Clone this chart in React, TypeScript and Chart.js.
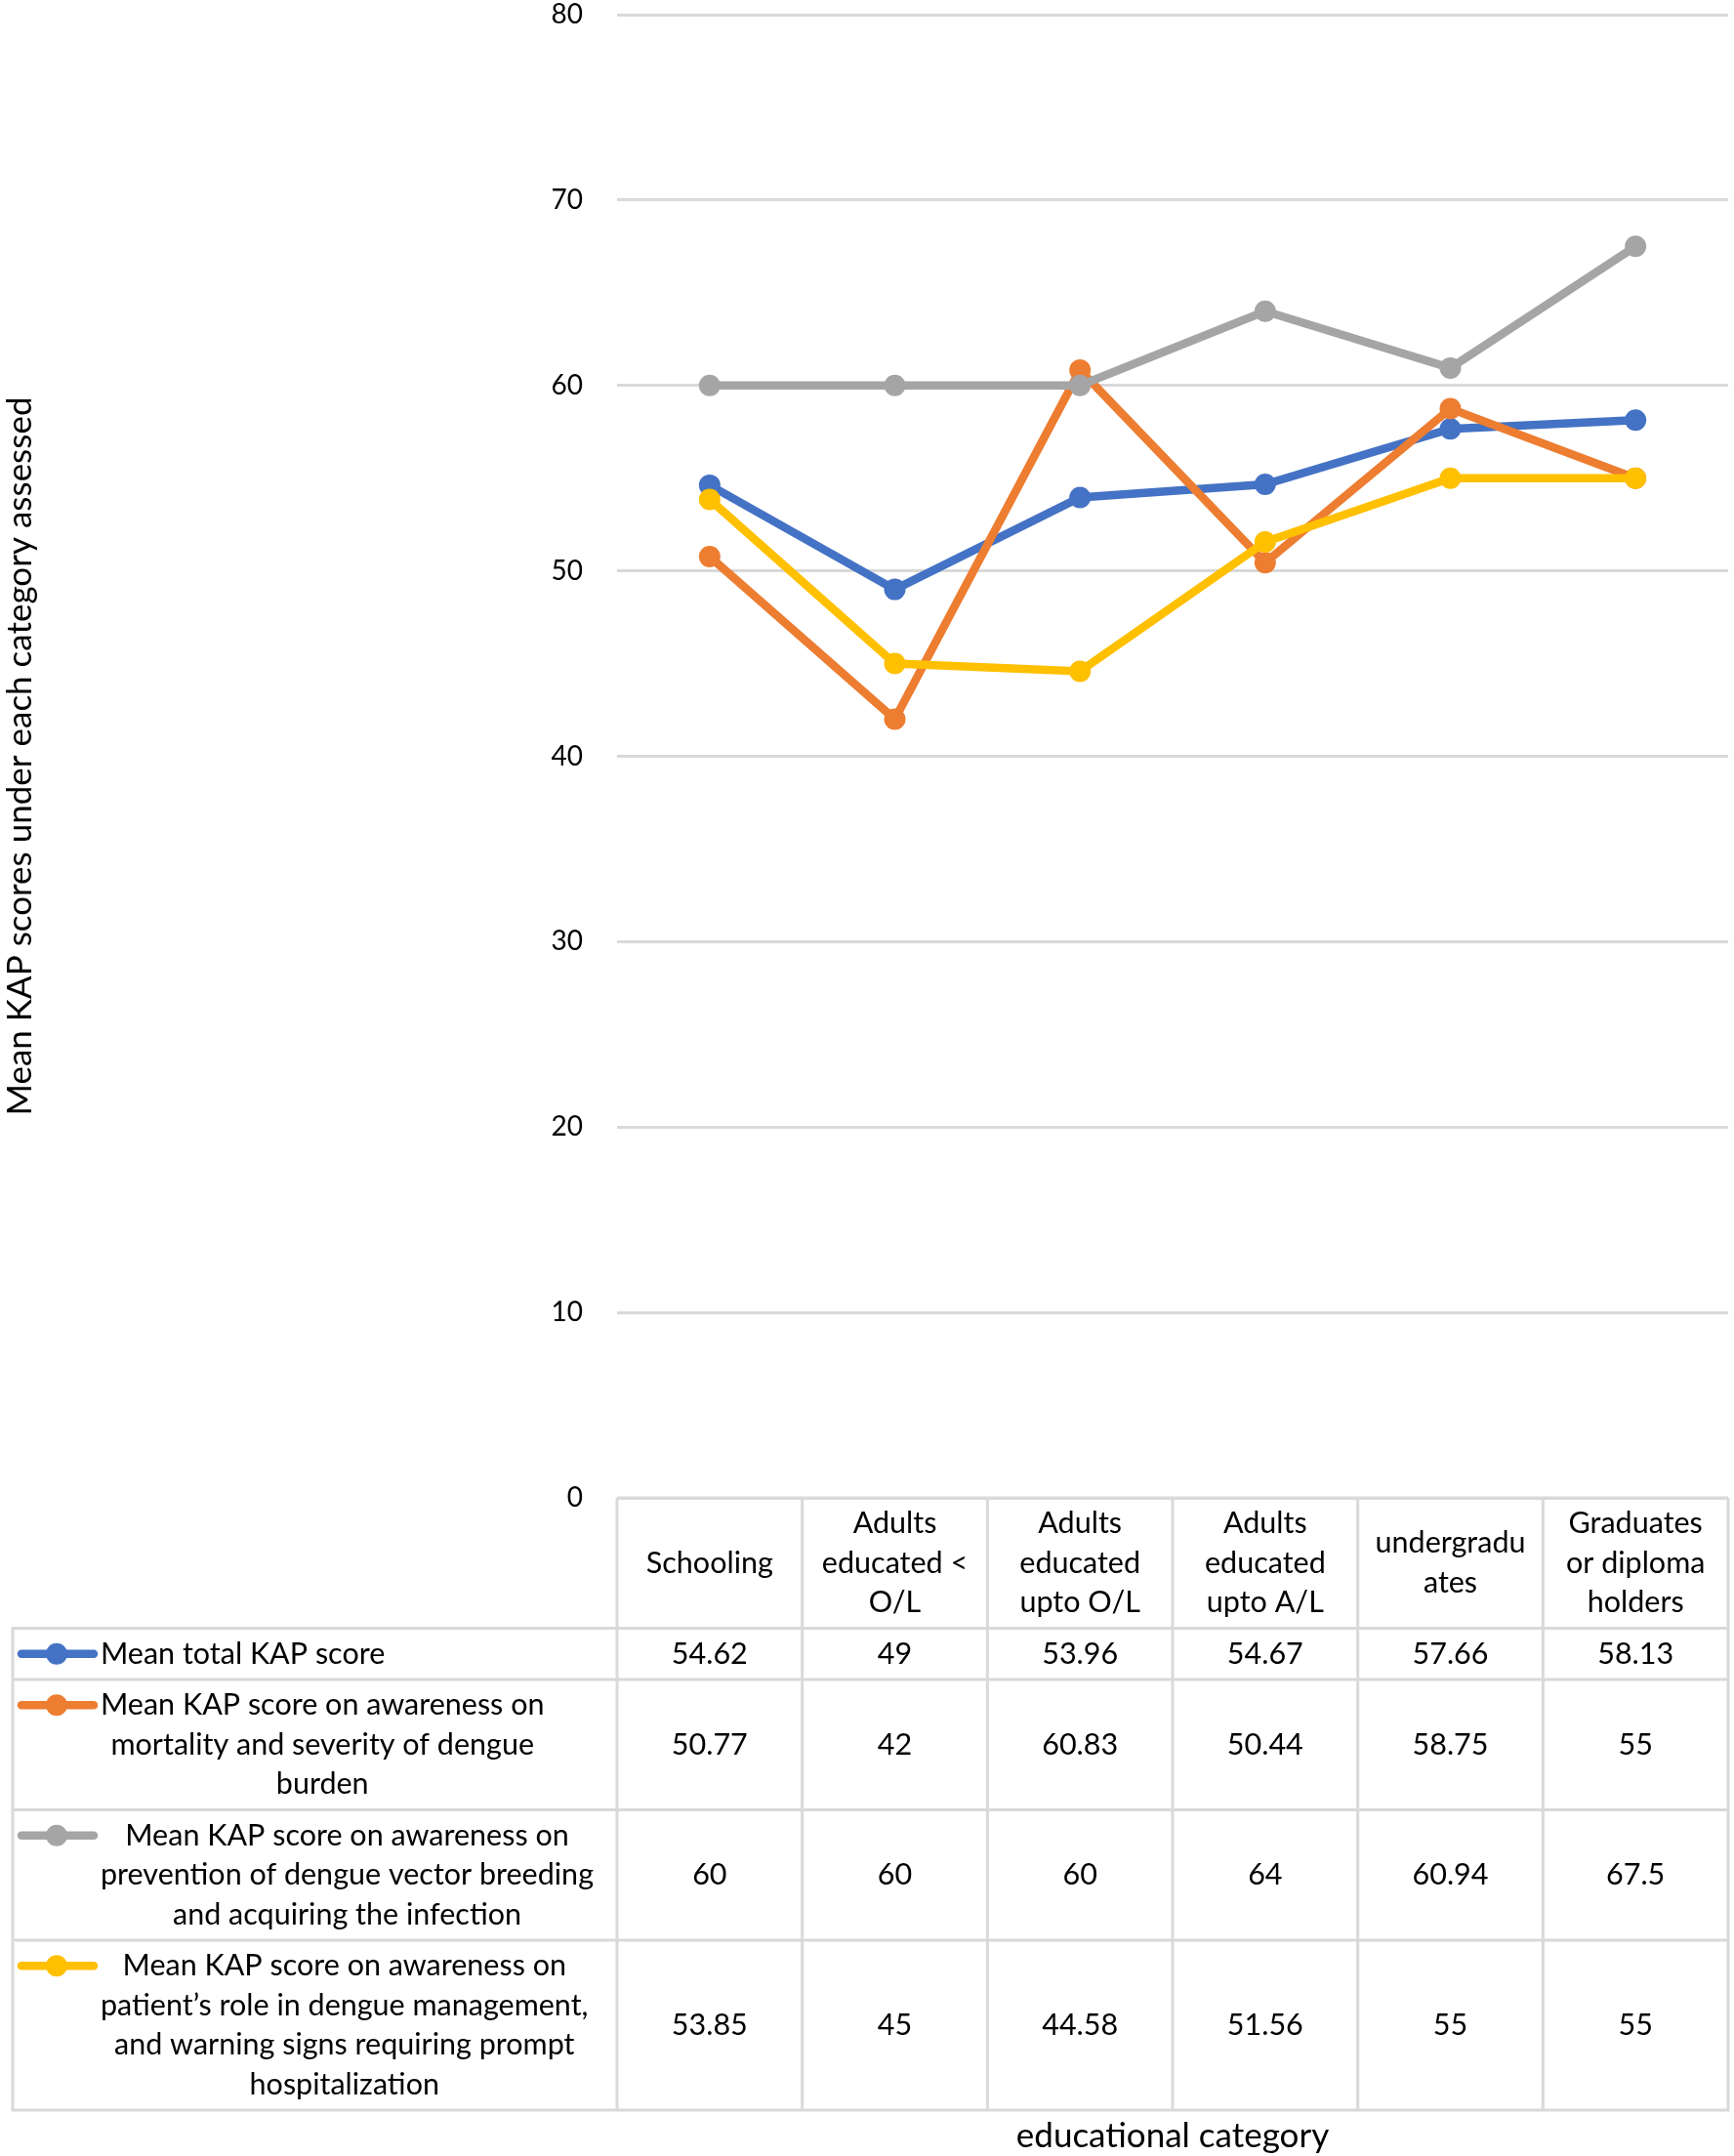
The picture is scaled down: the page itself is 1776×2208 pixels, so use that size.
import React, { useEffect, useRef } from "react";
import { Chart, registerables } from "chart.js";

Chart.register(...registerables);

// ---------- data ----------
const categories: string[][] = [
  ["Schooling"],
  ["Adults", "educated <", "O/L"],
  ["Adults", "educated", "upto O/L"],
  ["Adults", "educated", "upto A/L"],
  ["undergradu", "ates"],
  ["Graduates", "or diploma", "holders"],
];

const seriesNames: string[][] = [
  ["Mean total KAP score"],
  ["Mean KAP score on awareness on", "mortality and severity of dengue", "burden"],
  ["Mean KAP score on awareness on", "prevention of dengue vector breeding", "and acquiring the infection"],
  ["Mean KAP score on awareness on", "patient\u2019s role in dengue management,", "and warning signs requiring prompt", "hospitalization"],
];

const totalScore = [54.62, 49, 53.96, 54.67, 57.66, 58.13];
const mortalityScore = [50.77, 42, 60.83, 50.44, 58.75, 55];
const preventionScore = [60, 60, 60, 64, 60.94, 67.5];
const patientRoleScore = [53.85, 45, 44.58, 51.56, 55, 55];

const seriesColors = ["#4472C4", "#ED7D31", "#A5A5A5", "#FFC000"];
const yTicks = [0, 10, 20, 30, 40, 50, 60, 70, 80];

const yTitle = "Mean KAP scores under each category assessed";
const xTitle = "educational category";

// ---------- layout / style ----------
const W = 1776;
const H = 2208;
const FONT = "Lato, 'Noto Sans', sans-serif";
const TABLE_FONT_SIZE = 30.5;
const TICK_FONT_SIZE = 28;
const TITLE_FONT_SIZE = 35;
const LINE_H = 40.5;
const ROW_PAD = 12;
const TABLE_LEFT = 13;
const BORDER = "#D9D9D9";

const allSeries = [totalScore, mortalityScore, preventionScore, patientRoleScore];

const tablePlugin = {
  id: "dataTable",
  afterDraw(chart: any) {
    const ctx: CanvasRenderingContext2D = chart.ctx;
    const xs = chart.scales.x;
    const area = chart.chartArea;
    const n = categories.length;
    const step = (area.right - area.left) / n;
    ctx.save();
    ctx.font = `${TABLE_FONT_SIZE}px ${FONT}`;
    ctx.fillStyle = "#000";
    ctx.textBaseline = "middle";
    ctx.textAlign = "center";

    // row bounds
    const headerTop = area.bottom;
    const headerLines = Math.max(...categories.map((c) => c.length));
    const headerBottom = headerTop + headerLines * LINE_H + ROW_PAD;
    const rowBounds: number[] = [headerBottom];
    seriesNames.forEach((s) => {
      rowBounds.push(rowBounds[rowBounds.length - 1] + s.length * LINE_H + ROW_PAD);
    });

    // header labels
    const headerMid = (headerTop + headerBottom) / 2;
    categories.forEach((lines, i) => {
      const cx = xs.getPixelForValue(i);
      const y0 = headerMid - ((lines.length - 1) * LINE_H) / 2;
      lines.forEach((t, k) => ctx.fillText(t, cx, y0 + k * LINE_H));
    });

    // rows
    seriesNames.forEach((names, r) => {
      const top = rowBounds[r];
      const bot = rowBounds[r + 1];
      const mid = (top + bot) / 2;
      const y0 = mid - ((names.length - 1) * LINE_H) / 2;
      // legend key
      ctx.strokeStyle = seriesColors[r];
      ctx.lineWidth = 8.5;
      ctx.lineCap = "round";
      ctx.beginPath();
      ctx.moveTo(22, y0);
      ctx.lineTo(96, y0);
      ctx.stroke();
      ctx.fillStyle = seriesColors[r];
      ctx.beginPath();
      ctx.arc(58, y0, 11, 0, Math.PI * 2);
      ctx.fill();
      // name
      ctx.fillStyle = "#000";
      const maxW = Math.max(...names.map((t) => ctx.measureText(t).width));
      const blockCx = 103 + maxW / 2;
      names.forEach((t, k) => ctx.fillText(t, blockCx, y0 + k * LINE_H));
      // values
      allSeries[r].forEach((v, i) => {
        ctx.fillText(String(v), xs.getPixelForValue(i), mid);
      });
    });

    // borders
    ctx.strokeStyle = BORDER;
    ctx.lineWidth = 3;
    ctx.lineCap = "butt";
    const tableBottom = rowBounds[rowBounds.length - 1];
    ctx.beginPath();
    for (let i = 0; i <= n; i++) {
      const x = area.left + i * step;
      ctx.moveTo(x, headerTop);
      ctx.lineTo(x, tableBottom);
    }
    ctx.moveTo(TABLE_LEFT, headerBottom);
    ctx.lineTo(TABLE_LEFT, tableBottom);
    rowBounds.forEach((y) => {
      ctx.moveTo(TABLE_LEFT - 1.5, y);
      ctx.lineTo(area.right + 1.5, y);
    });
    ctx.moveTo(area.left, headerTop);
    ctx.lineTo(area.right, headerTop);
    ctx.stroke();

    // x title
    ctx.font = `${TITLE_FONT_SIZE}px ${FONT}`;
    ctx.fillStyle = "#000";
    ctx.textAlign = "center";
    ctx.fillText(xTitle, (area.left + area.right) / 2, tableBottom + 27);
    ctx.restore();
  },
};

export default function App() {
  const ref = useRef<HTMLCanvasElement | null>(null);
  useEffect(() => {
    document.documentElement.style.overflow = "hidden";
    document.body.style.overflow = "hidden";
    document.body.style.margin = "0";
    if (!ref.current) return;
    const chart = new Chart(ref.current, {
      type: "line",
      data: {
        labels: categories.map((c) => c.join(" ")),
        datasets: allSeries.map((d, i) => ({
          label: seriesNames[i].join(" "),
          data: d,
          borderColor: seriesColors[i],
          backgroundColor: seriesColors[i],
          pointBackgroundColor: seriesColors[i],
          pointBorderColor: seriesColors[i],
          pointBorderWidth: 0,
          pointRadius: 11,
          borderWidth: 8.5,
          tension: 0,
          fill: false,
          order: allSeries.length - i,
        })),
      },
      options: {
        animation: false,
        responsive: false,
        devicePixelRatio: 1,
        layout: { autoPadding: false, padding: { top: 15, right: 6, left: 0, bottom: 0 } },
        plugins: {
          legend: { display: false },
          tooltip: { enabled: false },
        },
        scales: {
          x: {
            type: "category",
            offset: true,
            grid: { display: false },
            border: { display: false },
            ticks: { display: false },
            afterFit: (scale: any) => {
              scale.height = H - 1534;
              scale.paddingLeft = 0;
              scale.paddingRight = 0;
            },
          },
          y: {
            min: 0,
            max: 80,
            afterBuildTicks: (scale: any) => {
              scale.ticks = yTicks.map((v) => ({ value: v }));
            },
            grid: { color: BORDER, lineWidth: 3, drawTicks: false },
            border: { display: false },
            ticks: {
              padding: 35,
              color: "#000",
              font: { family: FONT, size: TICK_FONT_SIZE },
            },
            title: {
              display: true,
              text: yTitle,
              color: "#000",
              font: { family: FONT, size: TITLE_FONT_SIZE },
              padding: { top: 0, bottom: 0 },
            },
            afterFit: (scale: any) => {
              scale.width = 632;
              scale.paddingTop = 0;
              scale.paddingBottom = 0;
            },
          },
        },
      },
      plugins: [tablePlugin],
    });
    return () => chart.destroy();
  }, []);
  return (
    <div style={{ position: "fixed", left: 0, top: 0, width: W, height: H, background: "#fff", overflow: "hidden" }}>
      <canvas ref={ref} width={W} height={H} style={{ display: "block", width: W, height: H }} />
    </div>
  );
}
